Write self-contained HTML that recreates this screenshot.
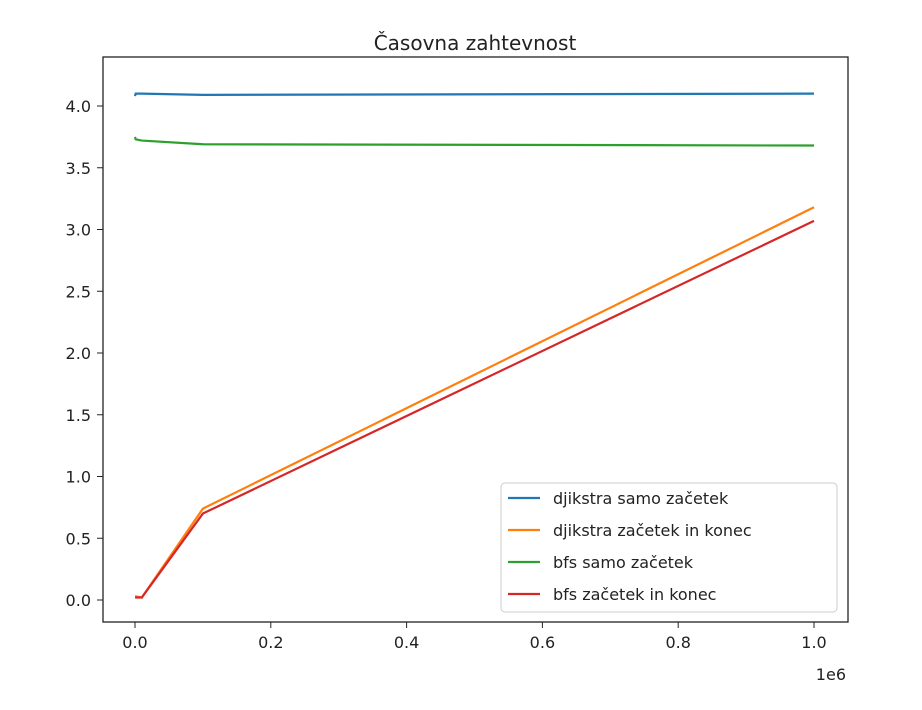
<!DOCTYPE html>
<html><head><meta charset="utf-8"><style>
body{margin:0;background:#fff;}
svg{display:block;font-family:"DejaVu Sans","Liberation Sans",sans-serif;}
</style></head><body>
<svg id="chart" width="922" height="710">
<text x="475" y="50" text-anchor="middle" font-size="20" fill="#222">Časovna zahtevnost</text>
<g id="plot"></g>
<rect x="103" y="57" width="745" height="565" fill="none" stroke="#222" stroke-width="1.3"/>
<text x="846" y="680" text-anchor="end" font-size="16" fill="#222">1e6</text>
<g>
<rect x="501" y="483" width="336" height="129" rx="4" fill="#fff" fill-opacity="0.8" stroke="#ccc"/>
<g id="legend-items"></g>
</g>
</svg>
<script>
const xValues=[100,1000,10000,100000,1000000];
const seriesNames=["djikstra samo začetek","djikstra začetek in konec","bfs samo začetek","bfs začetek in konec"];
const seriesColors=["#1f77b4","#ff7f0e","#2ca02c","#d62728"];
const dijkstraSamo=[4.08,4.10,4.10,4.09,4.10];
const dijkstraKonec=[0.03,0.03,0.02,0.74,3.18];
const bfsSamo=[3.75,3.73,3.72,3.69,3.68];
const bfsKonec=[0.02,0.02,0.02,0.70,3.07];
const xTicks=[0,0.2,0.4,0.6,0.8,1.0];
const yTicks=[0,0.5,1,1.5,2,2.5,3,3.5,4];
const NS="http://www.w3.org/2000/svg";
function sx(v){return 135+(v/1e6)*679;}
function sy(v){return 600-v*123.5;}
const plot=document.getElementById('plot');
xTicks.forEach(t=>{
 const l=document.createElementNS(NS,'line');
 l.setAttribute('x1',sx(t*1e6));l.setAttribute('x2',sx(t*1e6));l.setAttribute('y1',622);l.setAttribute('y2',628);l.setAttribute('stroke','#222');
 
 
 plot.appendChild(l);
 const tx=document.createElementNS(NS,'text');
 tx.setAttribute('x',sx(t*1e6));tx.setAttribute('y',648);tx.setAttribute('text-anchor','middle');tx.setAttribute('font-size','16');tx.setAttribute('fill','#222');
 tx.textContent=t.toFixed(1);
 
 
 plot.appendChild(tx);
});
yTicks.forEach(t=>{
 const l=document.createElementNS(NS,'line');
 l.setAttribute('x1',97);l.setAttribute('x2',103);l.setAttribute('y1',sy(t));l.setAttribute('y2',sy(t));l.setAttribute('stroke','#222');
 
 
 plot.appendChild(l);
 const tx=document.createElementNS(NS,'text');
 tx.setAttribute('x',91);tx.setAttribute('y',sy(t)+6);tx.setAttribute('text-anchor','end');tx.setAttribute('font-size','16');tx.setAttribute('fill','#222');
 tx.textContent=t.toFixed(1);
 
 
 plot.appendChild(tx);
});
[dijkstraSamo,dijkstraKonec,bfsSamo,bfsKonec].forEach((s,i)=>{
 const p=document.createElementNS(NS,'polyline');
 p.setAttribute('points',s.map((v,j)=>sx(xValues[j])+','+sy(v)).join(' '));
 p.setAttribute('fill','none');p.setAttribute('stroke',seriesColors[i]);p.setAttribute('stroke-width','2.2');
 
 
 plot.appendChild(p);
});
const lg=document.getElementById('legend-items');
seriesNames.forEach((n,i)=>{
 const y=498+i*32;
 const l=document.createElementNS(NS,'line');
 l.setAttribute('x1',508);l.setAttribute('x2',540);l.setAttribute('y1',y);l.setAttribute('y2',y);l.setAttribute('stroke',seriesColors[i]);l.setAttribute('stroke-width','2.2');
 
 
 lg.appendChild(l);
 const t=document.createElementNS(NS,'text');
 t.setAttribute('x',553);t.setAttribute('y',y+6);t.setAttribute('font-size','16');t.setAttribute('fill','#222');
 t.textContent=n;
 
 
 lg.appendChild(t);
});
</script>
</body></html>
